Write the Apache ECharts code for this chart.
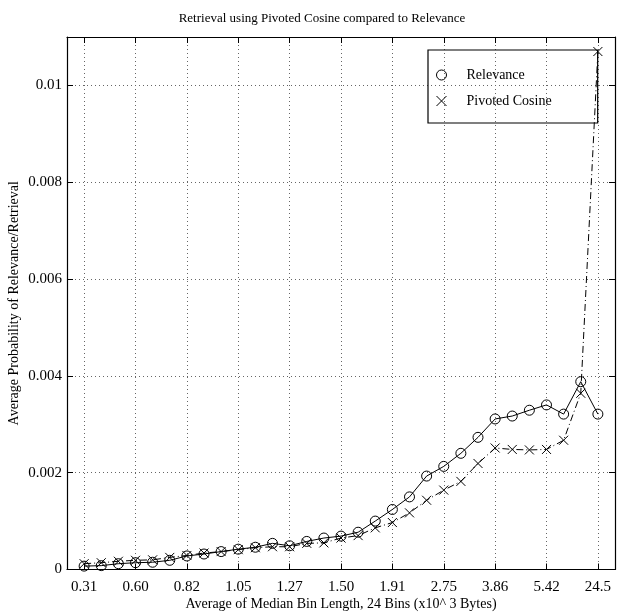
<!DOCTYPE html>
<html>
<head>
<meta charset="utf-8">
<title>Retrieval using Pivoted Cosine compared to Relevance</title>
<script src="https://cdn.jsdelivr.net/npm/echarts@6/dist/echarts.min.js"></script>
<style>
  html, body { margin: 0; padding: 0; background: #fff; }
  #chart { width: 618px; height: 614px; }
</style>
</head>
<body>
<div id="chart"></div>
<script>
// Labelled bins (every third of the 31 bins), in thousands of bytes
const tickLabels = ['0.31', '0.60', '0.82', '1.05', '1.27', '1.50', '1.91', '2.75', '3.86', '5.42', '24.5'];
const tickStep = 3;

// Average probability of relevance per bin
const relevance = [
  0.00007, 0.00008, 0.00012, 0.00014, 0.00015, 0.00019, 0.00028, 0.00032,
  0.00037, 0.00042, 0.00046, 0.00054, 0.00049, 0.00058, 0.00065, 0.00069,
  0.00077, 0.00100, 0.00124, 0.00150, 0.00193, 0.00213, 0.00240, 0.00273,
  0.00311, 0.00317, 0.00329, 0.00340, 0.00321, 0.00388, 0.00321
];

// Average probability of retrieval with pivoted cosine per bin
const pivoted = [
  0.00012, 0.00014, 0.00017, 0.00019, 0.00020, 0.00025, 0.00029, 0.00034,
  0.00037, 0.00041, 0.00045, 0.00047, 0.00047, 0.00054, 0.00055, 0.00065,
  0.00070, 0.00086, 0.00097, 0.00117, 0.00143, 0.00164, 0.00182, 0.00219,
  0.00251, 0.00248, 0.00247, 0.00248, 0.00267, 0.00364, 0.01070
];

const FONT = 'Liberation Serif';
const tickValues = tickLabels.map((_, i) => i * tickStep);
const toPoints = arr => arr.map((v, i) => [i, v]);
const crossPath = 'path://M0,0L10,10M10,0L0,10';
const hollow = 'rgba(0,0,0,0)';

const dotted = { color: '#666', width: 1, type: [1, 3] };

const xBase = {
  type: 'value',
  min: -1,
  max: 31,
  axisLine: { show: true, onZero: false, lineStyle: { color: '#000', width: 1.2 } },
  axisTick: { show: true, inside: true, length: 6, customValues: tickValues, lineStyle: { color: '#000' } }
};

const yBase = {
  type: 'value',
  min: 0,
  max: 0.011,
  interval: 0.002,
  axisLine: { show: true, onZero: false, lineStyle: { color: '#000', width: 1.2 } },
  axisTick: { show: true, inside: true, length: 6, lineStyle: { color: '#000' } }
};

const chart = echarts.init(document.getElementById('chart'), null, { renderer: 'canvas' });

chart.setOption({
  animation: false,
  backgroundColor: '#fff',
  textStyle: { fontFamily: FONT, color: '#000' },
  title: {
    text: 'Retrieval using Pivoted Cosine compared to Relevance',
    left: 317,
    textAlign: 'center',
    top: 7,
    textStyle: { fontFamily: FONT, fontSize: 13, fontWeight: 'normal', color: '#000' }
  },
  grid: { left: 67, right: 3, top: 37, bottom: 44.5, containLabel: false, outerBoundsMode: 'none' },
  legend: {
    orient: 'vertical',
    left: 428,
    top: 50,
    padding: [18, 46, 15, 8],
    itemWidth: 10,
    itemHeight: 10,
    itemGap: 12,
    borderColor: '#000',
    borderWidth: 1.2,
    textStyle: { fontFamily: FONT, fontSize: 14, color: '#000', padding: [0, 0, 0, 15] },
    data: [
      { name: 'Relevance', icon: 'circle',
        itemStyle: { color: hollow, borderColor: '#000', borderWidth: 1 } },
      { name: 'Pivoted Cosine', icon: crossPath,
        itemStyle: { color: hollow, borderColor: '#000', borderWidth: 1 } }
    ]
  },
  xAxis: [
    Object.assign({}, xBase, {
      position: 'bottom',
      name: 'Average of Median Bin Length, 24 Bins (x10^ 3 Bytes)',
      nameLocation: 'middle',
      nameGap: 28,
      nameMoveOverlap: false,
      nameTextStyle: { fontFamily: FONT, fontSize: 14, color: '#000' },
      axisLabel: {
        show: true,
        margin: 10,
        customValues: tickValues,
        fontFamily: FONT,
        fontSize: 15,
        color: '#000',
        formatter: v => tickLabels[Math.round(v / tickStep)] || ''
      },
      splitLine: { show: true, lineStyle: dotted }
    }),
    Object.assign({}, xBase, {
      position: 'top',
      axisLabel: { show: false },
      splitLine: { show: false }
    })
  ],
  yAxis: [
    Object.assign({}, yBase, {
      position: 'left',
      name: 'Average Probability of Relevance/Retrieval',
      nameLocation: 'middle',
      nameGap: 46,
      nameMoveOverlap: false,
      nameTextStyle: { fontFamily: FONT, fontSize: 14, color: '#000' },
      axisLabel: {
        show: true,
        margin: 5,
        showMaxLabel: false,
        fontFamily: FONT,
        fontSize: 15,
        color: '#000',
        formatter: v => (v === 0 ? '0' : String(+v.toFixed(4)))
      },
      splitLine: { show: true, lineStyle: dotted }
    }),
    Object.assign({}, yBase, {
      position: 'right',
      axisLabel: { show: false },
      splitLine: { show: false }
    })
  ],
  series: [
    {
      name: 'Relevance',
      type: 'line',
      xAxisIndex: 0,
      yAxisIndex: 0,
      data: toPoints(relevance),
      symbol: 'circle',
      symbolSize: 10,
      showAllSymbol: true,
      lineStyle: { color: '#000', width: 1 },
      itemStyle: { color: hollow, borderColor: '#000', borderWidth: 1 },
      z: 3
    },
    {
      name: 'Pivoted Cosine',
      type: 'line',
      xAxisIndex: 0,
      yAxisIndex: 0,
      data: toPoints(pivoted),
      symbol: crossPath,
      symbolSize: 9,
      showAllSymbol: true,
      lineStyle: { color: '#000', width: 1, type: [7, 3, 1, 3] },
      itemStyle: { color: hollow, borderColor: '#000', borderWidth: 1 },
      z: 4
    }
  ]
});
</script>
</body>
</html>
